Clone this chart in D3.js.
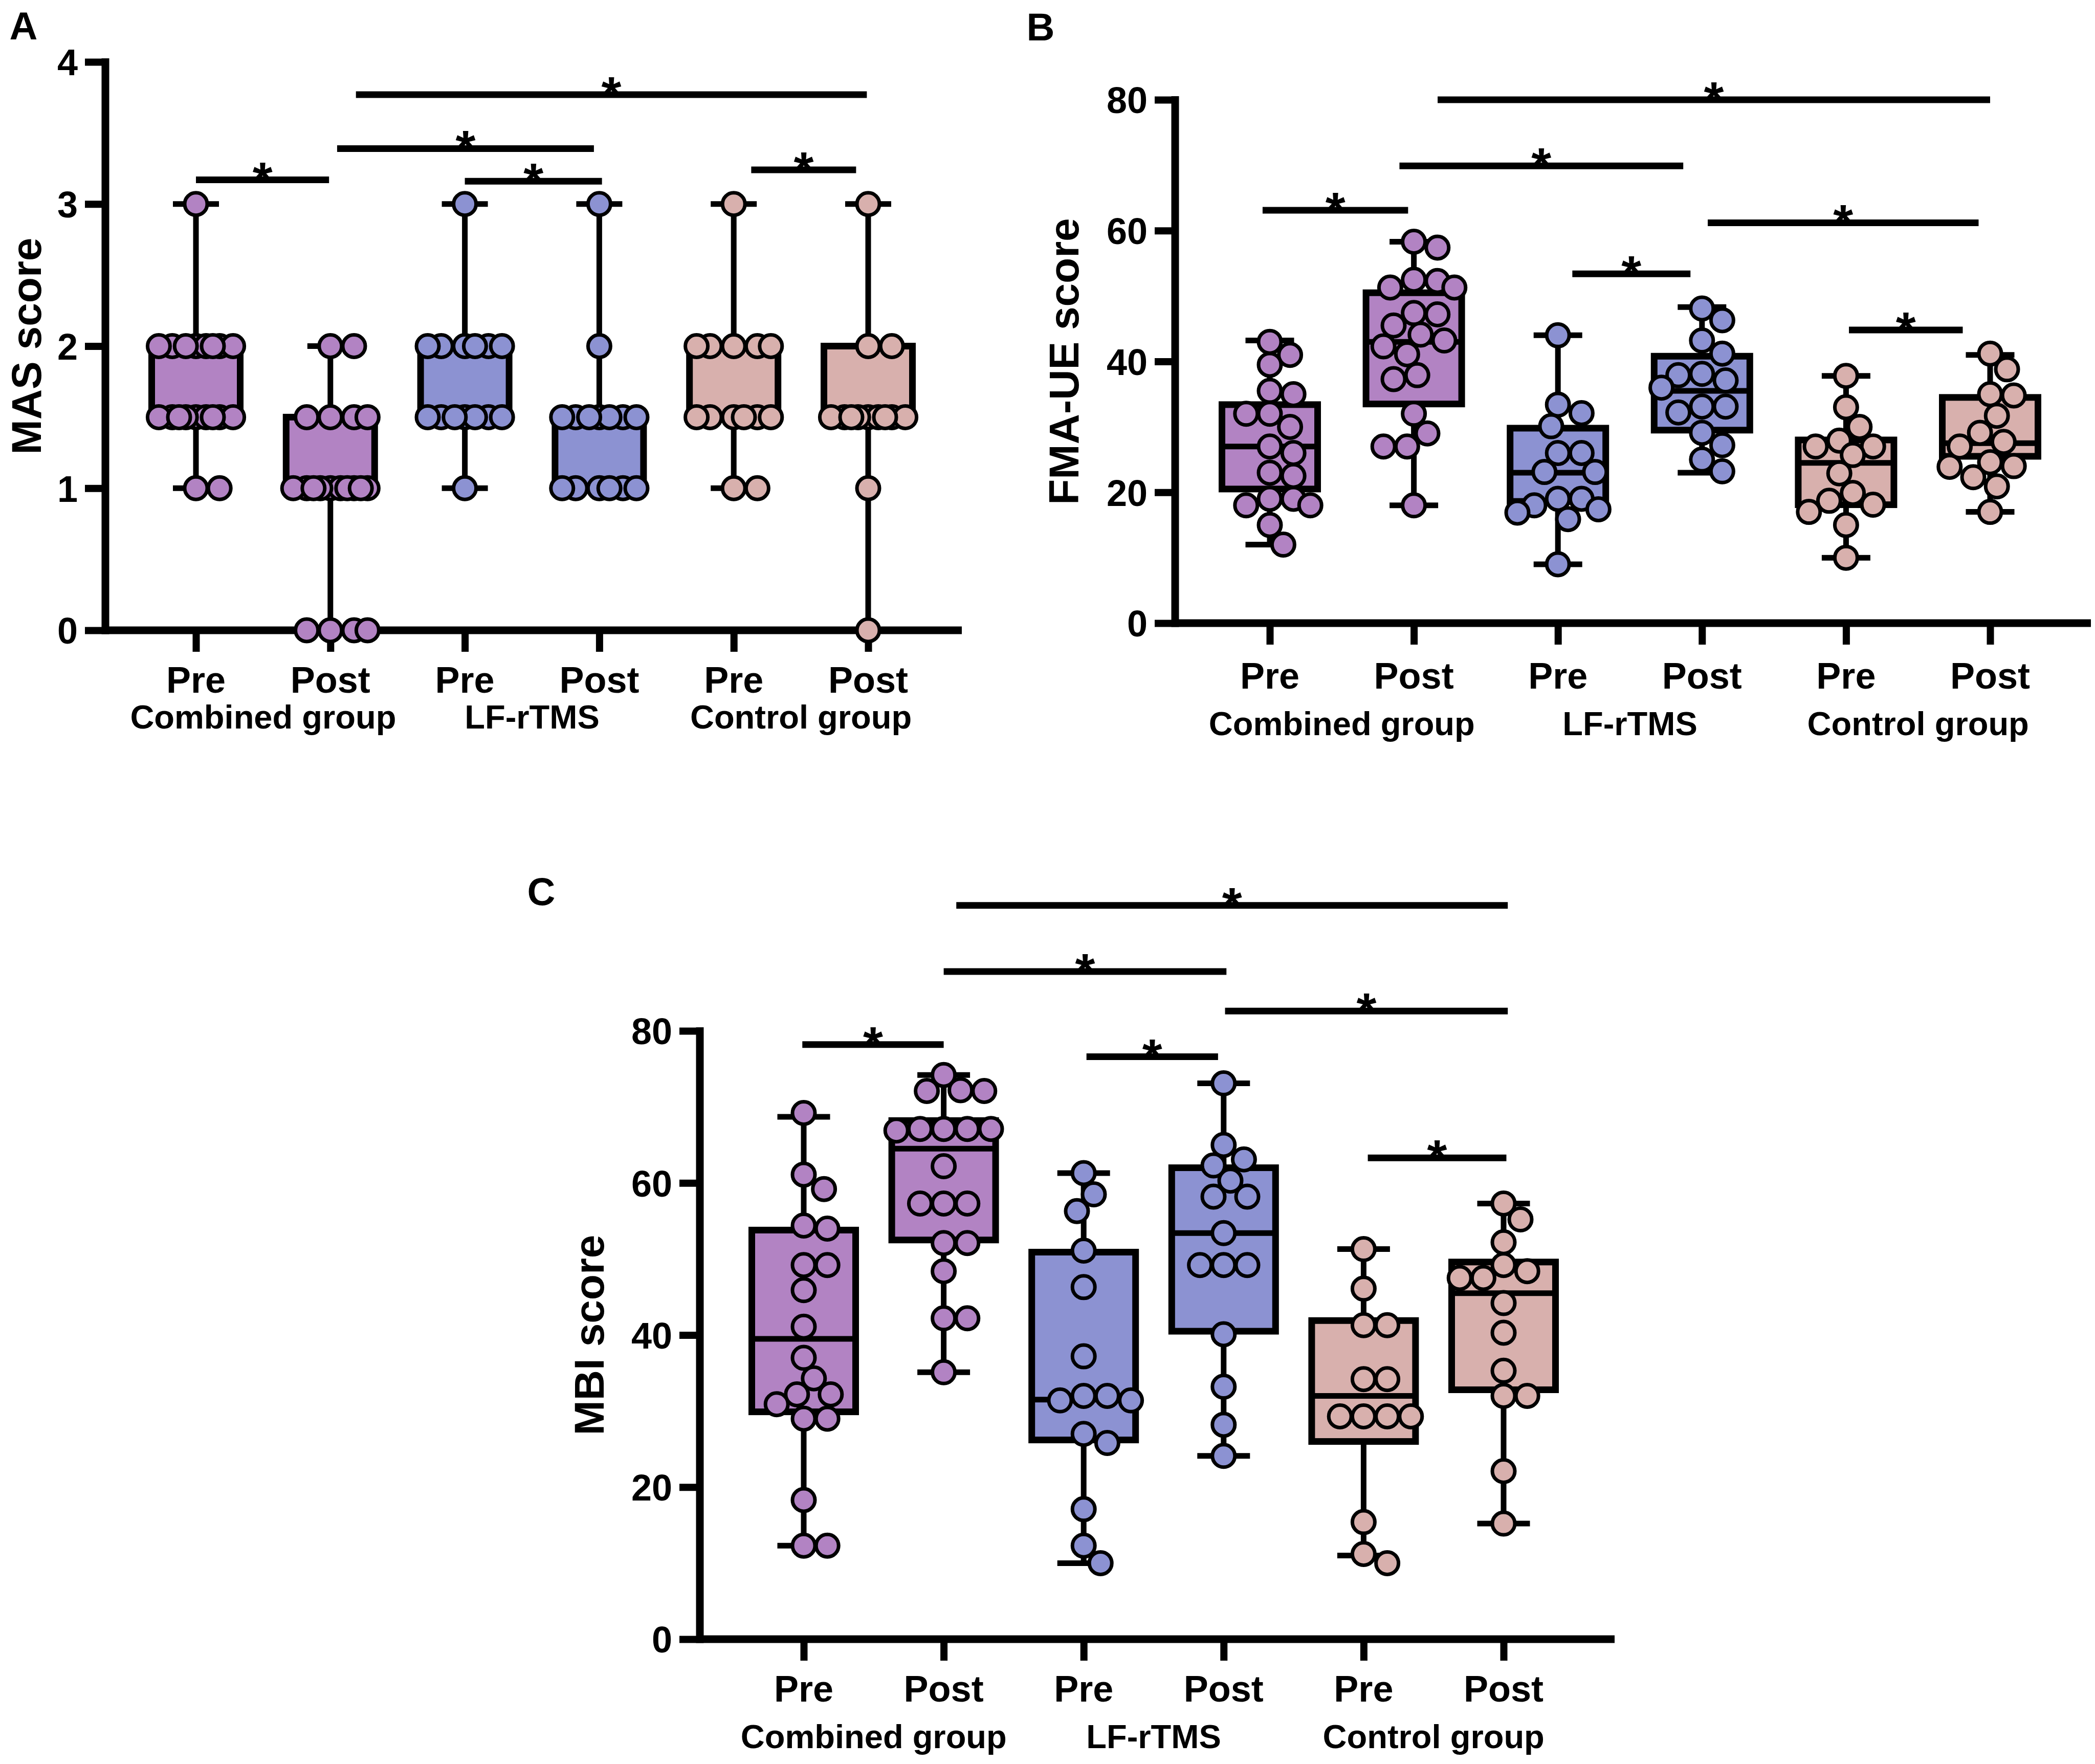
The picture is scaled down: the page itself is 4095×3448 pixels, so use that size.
<!DOCTYPE html>
<html lang="en">
<head>
    <meta charset="utf-8">
    <title>MAS, FMA-UE and MBI scores</title>
    <script src="https://cdn.jsdelivr.net/npm/d3@7/dist/d3.min.js"></script>
    <style type="text/css">
        body { margin: 0; background: #fff; }
        svg text { font-family: "Liberation Sans", Arial, sans-serif; font-weight: bold; fill: #000; }
    </style>
</head>
<body>
<div id="chart"></div>

<script>
// ---- data ----
const conditions = ["Pre", "Post", "Pre", "Post", "Pre", "Post"];
const groups = ["Combined group", "LF-rTMS", "Control group"];
const groupColors = ["#b283c3", "#8c92d2", "#d8b0ad"];

// A: MAS score
const masTicks = [0, 1, 2, 3, 4];
const masPoints = [
    [3, 2, 2, 2, 2, 2, 2, 2, 2, 1.5, 1.5, 1.5, 1.5, 1.5, 1.5, 1.5, 1.5, 1.5, 1, 1],
    [2, 2, 1.5, 1.5, 1.5, 1.5, 1, 1, 1, 1, 1, 1, 1, 1, 1, 1, 0, 0, 0, 0],
    [3, 2, 2, 2, 2, 2, 2, 1.5, 1.5, 1.5, 1.5, 1.5, 1.5, 1.5, 1],
    [3, 2, 1.5, 1.5, 1.5, 1.5, 1.5, 1.5, 1.5, 1, 1, 1, 1, 1, 1],
    [3, 2, 2, 2, 2, 2, 1.5, 1.5, 1.5, 1.5, 1.5, 1.5, 1, 1],
    [3, 2, 2, 1.5, 1.5, 1.5, 1.5, 1.5, 1.5, 1.5, 1.5, 1.5, 1, 0]
];
// [min, q1, median, q3, max]
const masBoxes = [
    [1, 1.5, 1.5, 2, 3],
    [0, 1, 1, 1.5, 2],
    [1, 1.5, 1.5, 2, 3],
    [1, 1, 1.5, 1.5, 3],
    [1, 1.5, 1.5, 2, 3],
    [0, 1.5, 1.5, 2, 3]
];
// [from index, to index, height]
const masSig = [
    [0, 0.99, 3.17],
    [1.05, 2.96, 3.39],
    [2.0, 3.02, 3.16],
    [1.19, 4.99, 3.77],
    [4.13, 4.91, 3.24]
];

// B: FMA-UE score
const fmaTicks = [0, 20, 40, 60, 80];
const fmaPoints = [
    [43, 41, 39.5, 35.5, 35, 32, 32, 30, 27, 26, 23, 22.5, 19, 19, 18, 18, 15, 12],
    [58.3, 57.4, 52.5, 52.3, 51.3, 51.3, 47.4, 47.2, 45.5, 44.1, 43.2, 42.3, 41.1, 37.9, 37.3, 32, 29, 27, 27, 18],
    [44, 33.4, 32.1, 30.1, 26, 26, 23.1, 23.1, 19, 19, 18, 17.4, 16.9, 15.9, 9],
    [48.1, 46.3, 43.2, 41.2, 38.1, 37.9, 37.1, 36, 33.1, 33.1, 32.2, 29.1, 27.2, 25, 23.2],
    [37.8, 33, 30, 27.9, 27, 27, 25.7, 22.9, 19.9, 18.7, 18.1, 17, 15, 10],
    [41.2, 38.8, 35, 34.8, 31.7, 29.1, 27.7, 27, 24.6, 24, 23.9, 22.3, 20.9, 17]
];
const fmaBoxes = [
    [12, 20.5, 27, 33.4, 43.2],
    [18, 33.5, 43, 50.5, 58.3],
    [9, 18.6, 23, 29.8, 44],
    [23, 29.5, 35.5, 40.8, 48.3],
    [10, 18.1, 24.5, 28, 37.8],
    [17, 25.5, 27.5, 34.5, 41]
];
const fmaSig = [
    [-0.05, 0.96, 63.1],
    [0.90, 2.87, 69.9],
    [2.10, 2.92, 53.4],
    [1.165, 5.0, 80.0],
    [3.04, 4.92, 61.2],
    [4.02, 4.81, 44.8]
];

// C: MBI score
const mbiTicks = [0, 20, 40, 60, 80];
const mbiPoints = [
    [69.2, 61.1, 59.2, 54.4, 54, 49.2, 49.2, 45.9, 41.1, 37, 34.3, 32.2, 32.2, 30.9, 29, 29, 18.3, 12.3, 12.3],
    [74.2, 72.2, 72.1, 72.1, 67.1, 67.1, 67.1, 67.1, 66.9, 62.2, 57.3, 57.3, 57.3, 52.1, 52.1, 48.4, 42.2, 42.2, 35.1],
    [61.3, 58.5, 56.3, 51.1, 46.3, 37.2, 32, 32, 31.4, 31.4, 27, 25.8, 17.1, 12.3, 10],
    [73.1, 65, 63.1, 62.3, 60.3, 58.2, 58.2, 53.4, 49.2, 49.2, 49.2, 40.1, 33.2, 28.2, 24.1],
    [51.3, 46.1, 41.3, 41.3, 34.2, 34.2, 29.3, 29.3, 29.3, 29.3, 15.4, 11.2, 10],
    [57.3, 55.2, 52.2, 49.2, 48.4, 47.5, 47.5, 44.2, 40.3, 35.3, 32, 32, 22.1, 15.2]
];
const mbiBoxes = [
    [12.3, 29.9, 39.5, 53.8, 68.7],
    [35.1, 52.5, 64.5, 68.2, 74.2],
    [10, 26.2, 31.5, 50.9, 61.3],
    [24.1, 40.5, 53.4, 62, 73.1],
    [11, 26, 32, 41.9, 51.3],
    [15.2, 32.8, 45.5, 49.6, 57.3]
];
const mbiSig = [
    [-0.01, 1.0, 78.2],
    [1.0, 3.02, 87.8],
    [2.02, 2.96, 76.6],
    [1.09, 5.03, 96.5],
    [3.01, 5.03, 82.6],
    [4.03, 5.02, 63.3]
];

// ---- layout ----
const W = 4095, H = 3448;
const svg = d3.select("#chart").append("svg")
    .attr("width", W)
    .attr("height", H)
    .attr("viewBox", `0 0 ${W} ${H}`);
svg.append("rect").attr("width", W).attr("height", H).attr("fill", "#fff");

const panels = [
    {letter: "A", lx: 46, ly: 50, title: "MAS score", tx: 80,
     ax: 206, xEnd: 1880, yTop: 121, yBot: 1232, c0: 383, c5: 1697,
     boxW: 173, capW: 90, tickDy: 122, groupDy: 192,
     ticks: masTicks, points: masPoints, boxes: masBoxes, sig: masSig},
    {letter: "B", lx: 2034, ly: 52, title: "FMA-UE score", tx: 2108,
     ax: 2297, xEnd: 4087, yTop: 195, yBot: 1218, c0: 2482, c5: 3890,
     boxW: 187, capW: 95, tickDy: 128, groupDy: 219,
     ticks: fmaTicks, points: fmaPoints, boxes: fmaBoxes, sig: fmaSig},
    {letter: "C", lx: 1058, ly: 1742, title: "MBI score", tx: 1180,
     ax: 1368, xEnd: 3156, yTop: 2015, yBot: 3204, c0: 1571, c5: 2939,
     boxW: 203, capW: 103, tickDy: 122, groupDy: 213,
     ticks: mbiTicks, points: mbiPoints, boxes: mbiBoxes, sig: mbiSig}
];

const R = 22;          // point radius
const axisW = 15, lineW = 11, sigW = 13;

// simple swarm: place each point at the nearest free horizontal offset
function swarm(vals, y, maxOff) {
    const placed = [];
    const minD = 2 * R;
    const step = R * 0.3;
    const cands = [0];
    for (let k = 1; k * step <= maxOff; k++) cands.push(k * step, -k * step);
    vals.slice().sort((a, b) => b - a).forEach(v => {
        const yy = y(v);
        let best = null, bestScore = -1;
        for (const off of cands) {
            const d = placed.length ? d3.min(placed, p => Math.hypot(p.dx - off, p.y - yy)) : Infinity;
            if (d >= minD) { best = off; break; }
            if (d > bestScore) { bestScore = d; best = off; }
        }
        placed.push({v: v, y: yy, dx: best});
    });
    return placed;
}

panels.forEach(p => {
    const g = svg.append("g");
    const y = d3.scaleLinear()
        .domain([0, d3.max(p.ticks)])
        .range([p.yBot, p.yTop]);
    const x = d3.scalePoint()
        .domain(d3.range(6))
        .range([p.c0, p.c5]);
    const xi = d3.scaleLinear().domain([0, 5]).range([p.c0, p.c5]);

    // axes
    const yAxis = g.append("g")
        .attr("transform", `translate(${p.ax},0)`)
        .call(d3.axisLeft(y).tickValues(p.ticks).tickFormat(d3.format("d")).tickSize(40).tickPadding(14));
    const xAxis = g.append("g")
        .attr("transform", `translate(0,${p.yBot})`)
        .call(d3.axisBottom(x).tickSize(42).tickFormat(""));
    [yAxis, xAxis].forEach(a => {
        a.select(".domain").remove();
        a.selectAll(".tick line").attr("stroke", "#000").attr("stroke-width", 14);
    });
    yAxis.selectAll("text").attr("font-size", 72).attr("dy", "0.36em");
    g.append("line")
        .attr("x1", p.ax).attr("x2", p.ax)
        .attr("y1", y(d3.max(p.ticks)) - 7).attr("y2", p.yBot + axisW / 2)
        .attr("stroke", "#000").attr("stroke-width", axisW);
    g.append("line")
        .attr("x1", p.ax).attr("x2", p.xEnd)
        .attr("y1", p.yBot).attr("y2", p.yBot)
        .attr("stroke", "#000").attr("stroke-width", axisW);

    // category labels
    g.selectAll(".cond")
        .data(conditions)
        .enter().append("text")
        .attr("x", (d, i) => x(i))
        .attr("y", p.yBot + p.tickDy)
        .attr("text-anchor", "middle")
        .attr("font-size", 72)
        .text(d => d);
    g.selectAll(".grp")
        .data(groups)
        .enter().append("text")
        .attr("x", (d, i) => (x(2 * i) + x(2 * i + 1)) / 2)
        .attr("y", p.yBot + p.groupDy)
        .attr("text-anchor", "middle")
        .attr("font-size", 65)
        .text(d => d);

    // axis title and panel letter
    g.append("text")
        .attr("transform", `translate(${p.tx},${(p.yTop + p.yBot) / 2}) rotate(-90)`)
        .attr("text-anchor", "middle")
        .attr("font-size", 82)
        .text(p.title);
    g.append("text")
        .attr("x", p.lx).attr("y", p.ly)
        .attr("text-anchor", "middle")
        .attr("dy", "0.36em")
        .attr("font-size", 76)
        .text(p.letter);

    // boxes and whiskers
    p.boxes.forEach((b, i) => {
        const cx = x(i), col = groupColors[Math.floor(i / 2)];
        const bg = g.append("g");
        bg.append("line")
            .attr("x1", cx).attr("x2", cx)
            .attr("y1", y(b[0])).attr("y2", y(b[4]))
            .attr("stroke", "#000").attr("stroke-width", lineW);
        [b[0], b[4]].forEach(v => {
            bg.append("line")
                .attr("x1", cx - p.capW / 2).attr("x2", cx + p.capW / 2)
                .attr("y1", y(v)).attr("y2", y(v))
                .attr("stroke", "#000").attr("stroke-width", lineW);
        });
        bg.append("rect")
            .attr("x", cx - p.boxW / 2)
            .attr("width", p.boxW)
            .attr("y", y(b[3]))
            .attr("height", y(b[1]) - y(b[3]))
            .attr("fill", col)
            .attr("stroke", "#000")
            .attr("stroke-width", 13);
        bg.append("line")
            .attr("x1", cx - p.boxW / 2).attr("x2", cx + p.boxW / 2)
            .attr("y1", y(b[2])).attr("y2", y(b[2]))
            .attr("stroke", "#000").attr("stroke-width", lineW);
    });

    // points
    p.points.forEach((vals, i) => {
        const cx = x(i), col = groupColors[Math.floor(i / 2)];
        g.append("g").selectAll("circle")
            .data(swarm(vals, y, p.boxW / 2 - R * 0.4))
            .enter().append("circle")
            .attr("cx", d => cx + d.dx)
            .attr("cy", d => d.y)
            .attr("r", R)
            .attr("fill", col)
            .attr("stroke", "#000")
            .attr("stroke-width", 7);
    });

    // significance bars
    p.sig.forEach(s => {
        g.append("line")
            .attr("x1", xi(s[0])).attr("x2", xi(s[1]))
            .attr("y1", y(s[2])).attr("y2", y(s[2]))
            .attr("stroke", "#000").attr("stroke-width", sigW);
        g.append("text")
            .attr("x", (xi(s[0]) + xi(s[1])) / 2)
            .attr("y", y(s[2]) + 35)
            .attr("text-anchor", "middle")
            .attr("font-size", 100)
            .text("*");
    });
});
</script>
</body>
</html>
